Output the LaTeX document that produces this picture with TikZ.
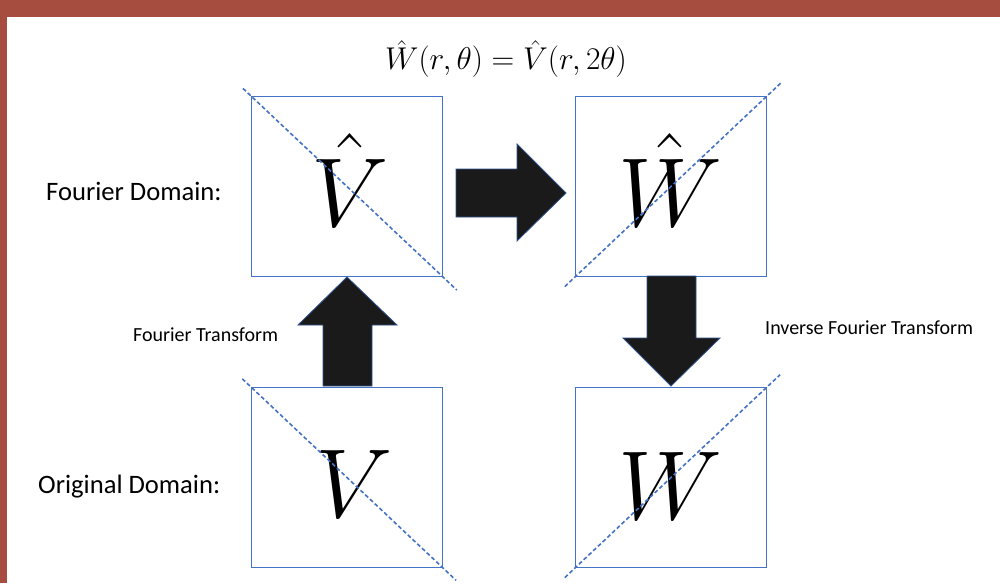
\documentclass[tikz,border=0pt]{standalone}
\usepackage{fix-cm}
\usepackage{fontspec}
\newfontfamily\calib{Carlito}
\definecolor{brd}{RGB}{166,77,63}
\definecolor{obl}{RGB}{68,114,196}
\definecolor{aol}{RGB}{47,82,143}
\definecolor{afill}{RGB}{26,26,26}
\begin{document}
\begin{tikzpicture}[x=1pt,y=-1pt,
 panel/.style={draw=obl, line width=1pt, minimum width=191pt, minimum height=180pt, inner sep=0pt, anchor=north west},
 diag/.style={draw=obl, line width=1.6pt, dash pattern=on 4pt off 2.5pt},
 blockarrow/.style={fill=afill, draw=aol, line width=0.8pt, line join=miter},
 biglet/.style={anchor=base, inner sep=0pt, font=\fontsize{98}{98}\selectfont},
 lbl/.style={anchor=base west, inner sep=0pt, font=\calib\fontsize{26.6}{31}\selectfont},
 small/.style={anchor=base west, inner sep=0pt, font=\calib\fontsize{20}{24}\selectfont}]
\useasboundingbox (0,0) rectangle (1000,583);
\fill[white] (0,0) rectangle (1000,583);
\fill[brd] (0,0) rectangle (1000,17);
\fill[brd] (0,0) rectangle (7,583);
% panels
\node[panel] (fv) at (251,96) {};
\node[panel] (fw) at (575,96) {};
\node[panel] (ov) at (251,387) {};
\node[panel] (ow) at (575,387) {};
% letters
\node[biglet] (vhat) at (350,226) {$\hat V$};
\node[biglet] (what) at (670,226) {$\hat W$};
\node[biglet] (vv) at (354,517) {$V$};
\node[biglet] (ww) at (670,519) {$W$};
% diagonals
\draw[diag, shorten <=-11pt, shorten >=-19pt] (fv.north west) -- (fv.south east);
\draw[diag, shorten <=-14pt, shorten >=-19pt] (fw.south west) -- (fw.north east);
\draw[diag, shorten <=-12pt, shorten >=-18pt] (ov.north west) -- (ov.south east);
\draw[diag, shorten <=-14pt, shorten >=-18pt] (ow.south west) -- (ow.north east);
% block arrows
\draw[blockarrow] (456,169) -- (517,169) -- (517,144) -- (566,193) -- (517,241) -- (517,217) -- (456,217) -- cycle;
\draw[blockarrow] (323,386) -- (323,325) -- (298,325) -- (347,277) -- (397,325) -- (372,325) -- (372,386) -- cycle;
\draw[blockarrow] (647,276) -- (696,276) -- (696,338) -- (720,338) -- (671,386) -- (623,338) -- (647,338) -- cycle;
% labels
\node[anchor=base, inner sep=0pt, font=\fontsize{31.5}{32}\selectfont] (eq) at (506,70) {$\hat W(r,\theta)=\hat V(r,2\theta)$};
\node[lbl] (fd) at (46,200) {Fourier Domain:};
\node[lbl] (od) at (38,493) {Original Domain:};
\node[small] (ft) at (133,341) {Fourier Transform};
\node[small] (ift) at (765,334) {Inverse Fourier Transform};
\end{tikzpicture}
\end{document}
